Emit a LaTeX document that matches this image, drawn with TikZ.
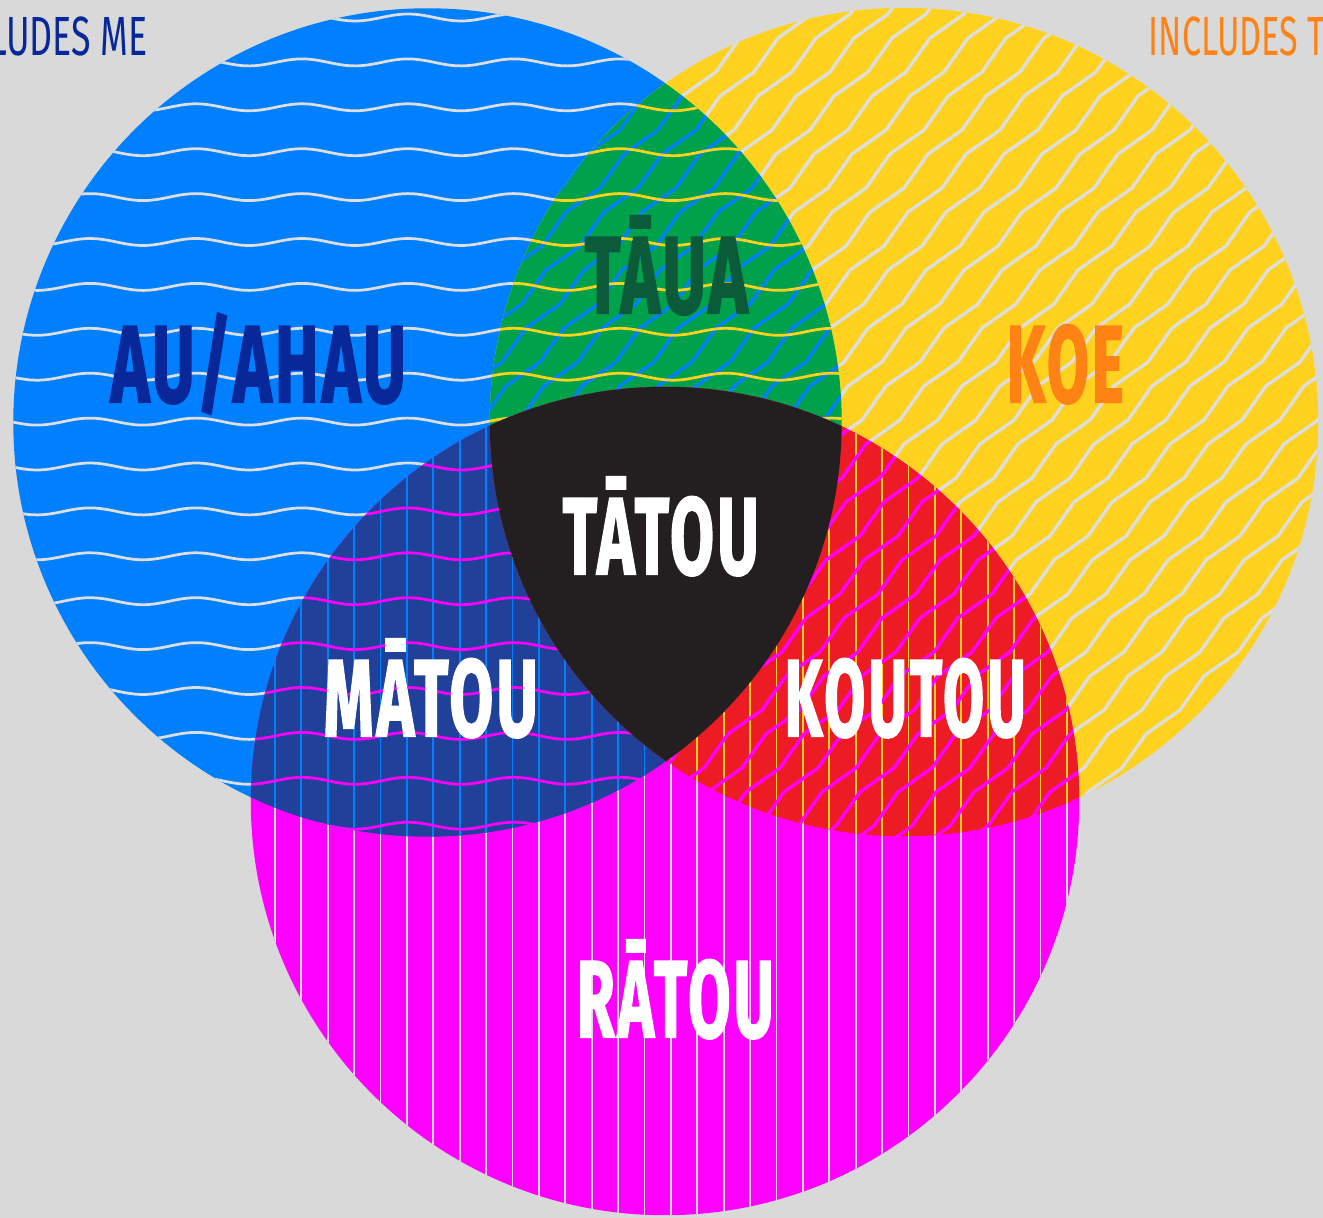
\documentclass[tikz,border=0pt]{standalone}
\usepackage{fontspec}
\newfontfamily\lblfont{Fira Sans}[BoldFeatures={FakeBold=2,LetterSpace=5}]
\definecolor{bg}{HTML}{D9D9D9}
\definecolor{ln}{HTML}{DCDEDF}
\definecolor{cblue}{HTML}{0080FF}
\definecolor{cyel}{HTML}{FFD21F}
\definecolor{cmag}{HTML}{FF00FF}
\definecolor{cgreen}{HTML}{00A14B}
\definecolor{cnavy}{HTML}{21409A}
\definecolor{cred}{HTML}{ED1C24}
\definecolor{cblack}{HTML}{231F20}
\definecolor{tnavy}{HTML}{08289A}
\definecolor{tgreen}{HTML}{0B5B3B}
\definecolor{torange}{HTML}{FF8214}
\newcommand\wavesB[1]{%
  \foreach \k in {0,...,18} {
    \draw[#1, line width=0.78pt] plot[domain=0:860, samples=90, smooth] (\x, {17.5+44.9*\k - 3.5*cos(3.3962*(\x-90))});
  }}
\newcommand\zigY[1]{%
  \foreach \c in {740,778,...,1930} {
    \draw[#1, line width=0.95pt, line join=round] (\c-850, 850) \foreach \j in {1,...,15} { -- ++(34,-24) -- ++(24,-34) };
  }}
\newcommand\vertM[1]{%
  \foreach \i in {0,...,31} {
    \draw[#1, line width=0.5pt] ({248.5+26.4*\i}, 380) -- ++(0,840);
  }}
\tikzset{
  bigword/.style={anchor=base west, inner sep=0pt, font=\lblfont\bfseries\fontsize{31}{31}\selectfont},
  topword/.style={inner sep=0pt, font=\lblfont\fontsize{15.7}{16}\selectfont}
}
\begin{document}
\begin{tikzpicture}[x=0.01cm, y=-0.01cm]
\useasboundingbox (0,0) rectangle (1323,1218);
\fill[bg] (0,0) rectangle (1323,1218);
\coordinate (B) at (427.5,422.5);
\coordinate (Y) at (904,422);
\coordinate (M) at (665,801);
% single circles
\fill[cblue] (B) circle[radius=4.14cm];
\fill[cyel] (Y) circle[radius=4.14cm];
\fill[cmag] (M) circle[radius=4.14cm];
\begin{scope}
  \clip (B) circle[radius=4.14cm];
  \wavesB{ln}
\end{scope}
\begin{scope}
  \clip (Y) circle[radius=4.14cm];
  \zigY{ln}
\end{scope}
\begin{scope}
  \clip (M) circle[radius=4.14cm];
  \vertM{ln}
\end{scope}
% pairwise overlaps
\begin{scope}
  \clip (B) circle[radius=4.14cm];
  \clip (Y) circle[radius=4.14cm];
  \fill[cgreen] (0,0) rectangle (1323,1218);
  \zigY{cblue}
  \wavesB{cyel}
\end{scope}
\begin{scope}
  \clip (B) circle[radius=4.14cm];
  \clip (M) circle[radius=4.14cm];
  \fill[cnavy] (0,0) rectangle (1323,1218);
  \vertM{cblue}
  \wavesB{cmag}
\end{scope}
\begin{scope}
  \clip (Y) circle[radius=4.14cm];
  \clip (M) circle[radius=4.14cm];
  \fill[cred] (0,0) rectangle (1323,1218);
  \vertM{cyel}
  \zigY{cmag}
\end{scope}
% triple overlap
\begin{scope}
  \clip (B) circle[radius=4.14cm];
  \clip (Y) circle[radius=4.14cm];
  \fill[cblack] (M) circle[radius=4.14cm];
\end{scope}
% labels
\node[bigword, text=tnavy] (au) at (110,402) {\resizebox{2.95cm}{\height}{AU/AHAU}};
\node[bigword, text=tgreen] (taua) at (584,313) {\resizebox{1.63cm}{\height}{TĀUA}};
\node[bigword, text=torange] (koe) at (1006,402) {\resizebox{1.17cm}{\height}{KOE}};
\node[bigword, text=white] (tatou) at (562,574) {\resizebox{1.96cm}{\height}{TĀTOU}};
\node[bigword, text=white] (matou) at (323,736) {\resizebox{2.14cm}{\height}{MĀTOU}};
\node[bigword, text=white] (koutou) at (784,736) {\resizebox{2.41cm}{\height}{KOUTOU}};
\node[bigword, text=white] (ratou) at (576,1037) {\resizebox{1.97cm}{\height}{RĀTOU}};
\node[topword, anchor=base east, text=tnavy] (me) at (148,55) {\resizebox{2.13cm}{\height}{INCLUDES ME}};
\node[topword, anchor=base west, text=torange] (you) at (1148,55) {\resizebox{1.76cm}{\height}{INCLUDES T}};
\end{tikzpicture}
\end{document}
